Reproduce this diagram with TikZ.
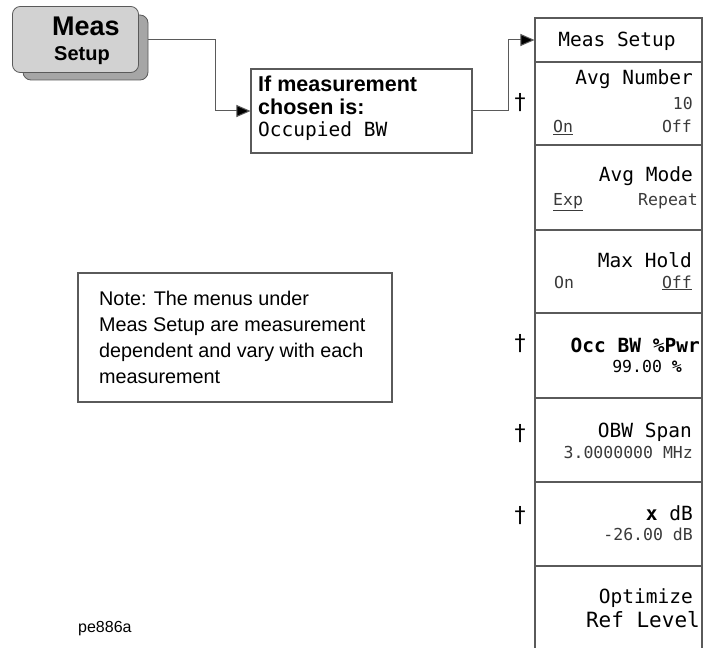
\documentclass[tikz,border=0pt]{standalone}
\usepackage{fontspec}
\setmainfont{Liberation Sans}
\newfontfamily\hpfont{DejaVu Sans Mono}
\newfontfamily\dagfont{DejaVu Sans}
\usetikzlibrary{arrows.meta}
\definecolor{edge}{HTML}{5A5A5A}
\definecolor{keyface}{HTML}{D2D2D2}
\definecolor{keyshade}{HTML}{A6A6A6}
\definecolor{soft}{HTML}{3A3A3A}
\tikzset{
  box/.style={draw=edge, line width=1.1pt, inner sep=0pt, fill=white},
  menukey/.style={box, minimum width=167pt},
  conn/.style={draw=edge, line width=1pt, -{Triangle[length=14pt,width=12pt,fill=black]}},
  bigl/.style={anchor=base east, inner sep=0pt, font=\hpfont\fontsize{19.5}{22}\selectfont},
  smalll/.style={anchor=base east, inner sep=0pt, text=soft, font=\hpfont\fontsize{16.5}{19}\selectfont},
  smallleft/.style={anchor=base west, inner sep=0pt, text=soft, font=\hpfont\fontsize{16.5}{19}\selectfont},
  dag/.style={anchor=base, inner sep=0pt, font=\dagfont\fontsize{22}{24}\selectfont},
  notetxt/.style={anchor=base west, inner sep=0pt, font=\fontsize{19.8}{24}\selectfont},
  condtxt/.style={anchor=base west, inner sep=0pt, font=\bfseries\fontsize{21.5}{24}\selectfont}
}
\begin{document}
\begin{tikzpicture}[x=1pt,y=-1pt]
\clip (0,0) rectangle (703,647);
\fill[white] (0,0) rectangle (703,647);

% Meas Setup hardkey
\node[box, draw=none, fill=none, minimum width=125pt, minimum height=65pt] (key) at (75.5,39.5) {};
\node[box, minimum width=221pt, minimum height=84pt] (cond) at (361.5,111) {};
\draw[conn] (key.east) -- ++(77,0) |- (cond.west);
\draw[draw=edge, line width=0.8pt, fill=keyshade, rounded corners=8pt] (23,15) rectangle (148,80);
\draw[draw=edge, line width=0.8pt, fill=keyface, rounded corners=8pt] (key.north west) rectangle (key.south east);
\node[anchor=base, inner sep=0pt, font=\bfseries\fontsize{27}{30}\selectfont] (keyl1) at (86,36) {Meas};
\node[anchor=base, inner sep=0pt, font=\bfseries\fontsize{20}{24}\selectfont] (keyl2) at (82,61) {Setup};

% condition box
\node[condtxt] (c1) at (258,92) {If measurement};
\node[condtxt] (c2) at (258,115) {chosen is:};
\node[anchor=base west, inner sep=0pt, font=\hpfont\fontsize{19.5}{22}\selectfont] (c3) at (258,137) {Occupied BW};

% menu column
\node[menukey, minimum height=44pt] (title) at (618.5,40) {};
\node[menukey, minimum height=83pt] (k1) at (618.5,103.5) {};
\node[menukey, minimum height=85pt] (k2) at (618.5,187.5) {};
\node[menukey, minimum height=83pt] (k3) at (618.5,271.5) {};
\node[menukey, minimum height=85pt] (k4) at (618.5,355.5) {};
\node[menukey, minimum height=84pt] (k5) at (618.5,440) {};
\node[menukey, minimum height=84pt] (k6) at (618.5,524) {};
\node[menukey, minimum height=84pt] (k7) at (618.5,608) {};

\draw[conn] (cond.east) -- ++(36,0) |- (title.west);

\node[anchor=base, inner sep=0pt, font=\hpfont\fontsize{19.5}{22}\selectfont] (tl) at (617,47) {Meas Setup};

\node[bigl] (a1) at (693,85) {Avg Number};
\node[smalll] (a2) at (693,110) {10};
\node[smallleft] (a3) at (553,133) {\underline{On}};
\node[smalll] (a4) at (692,133) {Off};

\node[bigl] (b1) at (693,182) {Avg Mode};
\node[smallleft] (b2) at (553,205) {\underline{Exp}};
\node[smalll] (b3) at (698,205) {Repeat};

\node[bigl] (m1) at (692,267) {Max Hold};
\node[smallleft] (m2) at (554,288) {On};
\node[smalll] (m3) at (692,288) {\underline{Off}};

\node[bigl, font=\hpfont\bfseries\fontsize{19.5}{22}\selectfont] (o1) at (700,352) {Occ BW \%Pwr};
\node[smalll, text=black] (o2) at (682,372) {99.00 \textbf{\%}};

\node[bigl] (s1) at (692,437) {OBW Span};
\node[smalll] (s2) at (693,458) {3.0000000 MHz};

\node[bigl, font=\hpfont\fontsize{19.5}{22}\selectfont] (x1) at (693,520) {\textbf{x} dB};
\node[smalll] (x2) at (693,540) {-26.00 dB};

\node[bigl] (p1) at (693,603) {Optimize};
\node[bigl, font=\hpfont\fontsize{21}{24}\selectfont] (p2) at (700,627) {Ref Level};

% daggers
\node[dag] (d1) at (520,110) {†};
\node[dag] (d2) at (520,350) {†};
\node[dag] (d3) at (520,440) {†};
\node[dag] (d4) at (520,522) {†};

% note
\node[box, minimum width=314pt, minimum height=129pt] (note) at (235,337.5) {};
\node[notetxt] (n1) at (99,305) {Note: The menus under};
\node[notetxt] (n2) at (99,331) {Meas Setup are measurement};
\node[notetxt] (n3) at (99,357) {dependent and vary with each};
\node[notetxt] (n4) at (99,383) {measurement};

\node[anchor=base west, inner sep=0pt, font=\fontsize{16}{18}\selectfont] (fig) at (78,632) {pe886a};
\end{tikzpicture}
\end{document}
